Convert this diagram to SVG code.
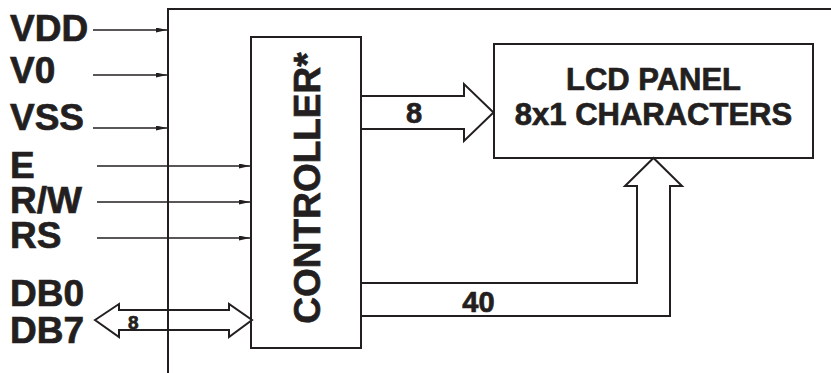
<svg xmlns="http://www.w3.org/2000/svg" width="831" height="373" viewBox="0 0 831 373">
<style>
text{font-family:"Liberation Sans",Arial,sans-serif;font-weight:bold;fill:#231f20;stroke:#231f20;stroke-width:0.7}
.pin{font-size:37px}
.box{fill:none;stroke:#231f20;stroke-width:2}
.sig{stroke:#231f20;stroke-width:1.3;fill:none}
.bus{fill:none;stroke:#231f20;stroke-width:2;stroke-linejoin:miter}
</style>
<defs>
<marker id="ah" markerUnits="userSpaceOnUse" markerWidth="11" markerHeight="5" refX="11" refY="2.5" orient="auto">
<path d="M0,0 L11,2.5 L0,5 z" fill="#231f20"/>
</marker>
</defs>
<g id="module-frame">
<path class="box" d="M168,373 V9 H831"/>
</g>
<g id="controller">
<rect class="box" x="251" y="37" width="110" height="311"/>
<text transform="translate(320,188) rotate(-90)" text-anchor="middle" font-size="37">CONTROLLER*</text>
</g>
<g id="lcd-panel">
<rect class="box" x="494" y="44" width="319" height="114"/>
<text x="653.5" y="90" text-anchor="middle" font-size="31">LCD PANEL</text>
<text x="653.5" y="125" text-anchor="middle" font-size="31">8x1 CHARACTERS</text>
</g>
<g id="pins">
<text class="pin" x="10" y="41">VDD</text>
<text class="pin" x="10" y="83">V0</text>
<text class="pin" x="10" y="130">VSS</text>
<text class="pin" x="10" y="178">E</text>
<text class="pin" x="10" y="213">R/W</text>
<text class="pin" x="10" y="248">RS</text>
<text class="pin" x="10" y="306">DB0</text>
<text class="pin" x="10" y="343">DB7</text>
</g>
<g id="connectors">
<line class="sig" x1="93" y1="30" x2="167" y2="30" marker-end="url(#ah)"/>
<line class="sig" x1="93" y1="75" x2="167" y2="75" marker-end="url(#ah)"/>
<line class="sig" x1="93" y1="128" x2="167" y2="128" marker-end="url(#ah)"/>
<line class="sig" x1="97" y1="166" x2="250" y2="166" marker-end="url(#ah)"/>
<line class="sig" x1="97" y1="202" x2="250" y2="202" marker-end="url(#ah)"/>
<line class="sig" x1="97" y1="238" x2="250" y2="238" marker-end="url(#ah)"/>
<polygon class="bus" points="95,320 119,304 119,310 229,310 229,304 252,320 229,337 229,330 119,330 119,337"/>
<text x="128" y="329" font-size="19">8</text>
<polyline class="bus" points="361,96 464,96 464,84 493.5,112.5 464,141 464,129 361,129"/>
<text x="414" y="122.5" text-anchor="middle" font-size="29">8</text>
<polyline class="bus" points="361,283 637,283 637,186 625,186 653.5,158 682,186 670,186 670,316 361,316"/>
<text x="478.5" y="311.5" text-anchor="middle" font-size="29">40</text>
</g>
</svg>
